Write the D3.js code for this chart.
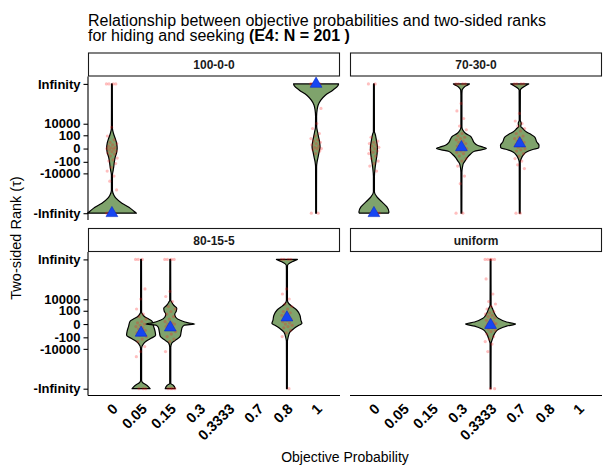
<!DOCTYPE html>
<html><head><meta charset="utf-8">
<script src="https://cdn.jsdelivr.net/npm/d3@7"></script>
<style>
body{margin:0;background:#fff}
svg{display:block}
text{font-family:"Liberation Sans",Arial,Helvetica,sans-serif}
</style>
</head><body>
<svg id="chart" width="613" height="468"></svg>
<script>
// ---------------- DATA ----------------
const INF = Infinity;
const INF_POS = 25.8; // axis position (asinh units) where ±Infinity is drawn
const panels = ["100-0-0", "70-30-0", "80-15-5", "uniform"];
const categories = ["0", "0.05", "0.15", "0.3", "0.3333", "0.7", "0.8", "1"];
const yTickValues = [-INF, -10000, -100, 0, 100, 10000, INF];
const yTickLabels = ["-Infinity", "-10000", "-100", "0", "100", "10000", "Infinity"];

// one entry per violin
const violinPanel = ["100-0-0", "100-0-0", "70-30-0", "70-30-0", "70-30-0", "80-15-5", "80-15-5", "80-15-5", "uniform"];
const violinCategory = ["0", "1", "0", "0.3", "0.7", "0.05", "0.15", "0.8", "0.3333"];

// violin profiles: [asinh(tau), relative density]
const profile_100_0 = [[INF,.016],[8.1,.02],[6.1,.06],[4.1,.13],[2.1,.19],[0.1,.21],[-1.5,.19],[-3.5,.13],[-5.1,.1],[-6.7,.08],[-8.7,.05],[-10.6,.02],[-16.6,.02],[-18.6,.08],[-19.8,.16],[-21.8,.4],[-23.4,.68],[-25,.88],[-INF,.98]];
const profile_100_1 = [[INF,.9],[25.2,.88],[23.3,.67],[21.3,.37],[19.3,.19],[17.3,.08],[15.3,.04],[12.9,.02],[8.6,.024],[6.6,.06],[4.6,.1],[2.6,.14],[0.6,.16],[-1.4,.12],[-3.4,.08],[-5.3,.04],[-7.3,.02],[-INF,.016]];
const profile_70_0 = [[INF,.016],[6.6,.02],[6.1,.04],[3.3,.1],[0.5,.14],[-1.9,.13],[-4.7,.09],[-7.5,.05],[-11.1,.02],[-17.3,.02],[-19.3,.12],[-21.3,.32],[-23.3,.52],[-25.3,.6],[-INF,.58]];
const profile_70_03 = [[INF,.32],[25.3,.24],[24.6,.12],[23.9,.06],[23.3,.028],[21.3,.02],[8.6,.02],[7.3,.06],[6.1,.16],[4.9,.36],[3.7,.44],[2.5,.5],[1.3,.64],[0.5,.88],[0,1.0],[-0.5,.8],[-1.1,.52],[-2.3,.36],[-3.5,.24],[-4.7,.16],[-5.9,.08],[-7.5,.04],[-9.5,.02],[-INF,.016]];
const profile_70_07 = [[INF,.36],[24.9,.2],[23.9,.06],[23.3,.024],[11.3,.02],[10,.06],[8.9,.04],[8.0,.12],[6.6,.27],[5.7,.44],[4.6,.6],[2.6,.68],[1.3,.77],[0.3,.76],[-0.4,.52],[-1.4,.27],[-2.7,.13],[-4,.06],[-5.5,.02],[-INF,.016]];
const profile_80_005 = [[INF,.016],[4.7,.02],[3.9,.06],[2.8,.16],[1.9,.32],[1.1,.44],[-0.9,.5],[-2.9,.56],[-4.5,.58],[-5.7,.4],[-6.9,.2],[-8.1,.08],[-9.7,.02],[-22.5,.02],[-23.5,.08],[-24.5,.24],[-INF,.36]];
const profile_80_015 = [[INF,.016],[9.5,.02],[8.7,.06],[7.5,.14],[6.3,.26],[5.1,.24],[3.9,.18],[2.7,.22],[1.5,.4],[0.5,.72],[0,.98],[-0.5,.56],[-1.3,.48],[-2.9,.44],[-4.9,.4],[-6.5,.2],[-7.7,.06],[-9.3,.02],[-23.7,.02],[-24.4,.12],[-INF,.2]];
const profile_80_08 = [[INF,.42],[25.0,.24],[24.1,.08],[23.4,.024],[21.4,.02],[9.5,.02],[8.1,.08],[6.8,.24],[5.5,.4],[3.5,.52],[1.5,.56],[0.2,.6],[-0.5,.48],[-1.8,.28],[-3.2,.12],[-5.2,.05],[-6.9,.02],[-INF,.016]];
const profile_unif = [[INF,.016],[7.5,.02],[6.1,.08],[4.2,.16],[2.2,.32],[0.8,.64],[0,1.0],[-0.8,.64],[-2.1,.32],[-3.8,.16],[-5.8,.08],[-7.8,.02],[-INF,.016]];
const violinProfiles = [profile_100_0, profile_100_1, profile_70_0, profile_70_03, profile_70_07, profile_80_005, profile_80_015, profile_80_08, profile_unif];

// mean markers (asinh(tau))
const meanAsinh = [-INF, INF, -INF, 0.5, 2.0, -3.5, -1.4, 2.6, -0.4];

// individual responses (asinh(tau))
const pts_100_0 = [INF,INF,INF,INF,8.5,5,3.5,2.5,2,1.5,1,0.5,0.3,0,-0.2,-0.5,-1,-1.3,-1.8,-2.2,-3,-3.8,-4.5,-5,-6,-7.5,-9,-11,-13,-16.5,-INF,-INF,-INF,-INF,-INF,-INF];
const pts_100_1 = [INF,INF,INF,INF,INF,INF,INF,INF,16,10,8,6,5,4,3.5,3,2.5,2,1.5,1,0.5,0,0,-0.5,-1,-2,-INF,-INF];
const pts_70_0 = [INF,INF,4.5,3,2.5,2,1.5,1,0.5,0,-0.5,-1,-1.5,-2,-3,-4,-5,-6,-7,-9,-INF,-INF,-INF,-INF,-INF,-INF];
const pts_70_03 = [INF,INF,INF,INF,18,15,12,9,7.5,6,5,4.5,4,3.5,3,2.5,2,1.5,1,0.5,0.2,0,0,-0.3,-0.6,-1,-1.5,-2,-3,-4,-5,-7,-11,-14,-INF,-INF];
const pts_70_07 = [INF,INF,INF,INF,14,11,10,9,8,7,6,5,4.5,4,3.5,3,2.5,2,1.5,1,0.5,0,-0.5,-1,-2,-3,-4,-5,-6.5,-8,-INF,-INF];
const pts_80_005 = [INF,INF,INF,14,10,6,4,3,2,1,0.5,0,-0.5,-1,-1.5,-2,-2.5,-3,-3.5,-4,-4.5,-5,-6,-7,-9,-11,-13,-INF,-INF,-INF];
const pts_80_015 = [INF,INF,INF,INF,13,11,9,7,6,5,4,3,2,1,0.5,0,0,-0.5,-1,-1.5,-2,-3,-4,-5,-6,-7,-11,-INF,-INF,-INF,-INF];
const pts_80_08 = [INF,INF,INF,INF,14,12,10,8,7,6,5,4.5,4,3.5,3,2.5,2,1.5,1,0.5,0,-0.5,-1,-1.5,-2.5,-3.5,-5,-INF];
const pts_unif = [INF,INF,INF,INF,INF,18,12,9,8,7,6,5,4.5,4,3.5,3,2.5,2,1.5,1,0.5,0.2,0,0,-0.2,-0.5,-1,-1.5,-2,-2.5,-3,-4,-5,-6,-7,-8,-11,-INF,-INF];
const violinPoints = [pts_100_0, pts_100_1, pts_70_0, pts_70_03, pts_70_07, pts_80_005, pts_80_015, pts_80_08, pts_unif];

// ---------------- LAYOUT ----------------
const svg = d3.select("#chart");
const colX = [[88, 340], [350, 602]];
const rowY = [[76.5, 220], [252, 395.5]];
const stripH = 23.5;
const font = '"Liberation Sans",Arial,Helvetica,sans-serif';

// position on the axis for values already in asinh units (±Infinity pinned)
const tf = v => (v === Infinity ? INF_POS : v === -Infinity ? -INF_POS : v);
// raw tau -> asinh units
const tauToAsinh = v => (isFinite(v) ? Math.asinh(v) : v);

const xScales = colX.map(c => d3.scalePoint().domain(categories).range(c).padding(0.82));
const yScales = rowY.map(r => d3.scaleLinear().domain([-INF_POS, INF_POS]).range([r[1] - 6.8, r[0] + 7.4]));
const wScale = d3.scaleLinear().domain([0, 1]).range([0, 25]);

// title
const title = svg.append("text").attr("font-size", 16).attr("fill", "#000");
title.append("tspan").attr("x", 88).attr("y", 26).text("Relationship between objective probabilities and two-sided ranks");
const t2 = title.append("tspan").attr("x", 88).attr("y", 40.5);
t2.append("tspan").text("for hiding and seeking ");
t2.append("tspan").attr("font-weight", "bold").text("(E4: N = 201 )");

panels.forEach((p, pi) => {
  const col = pi % 2, row = Math.floor(pi / 2);
  const [x0, x1] = colX[col];
  const [y0, y1] = rowY[row];
  const xs = xScales[col], ys = yScales[row];
  const g = svg.append("g");

  // strip
  g.append("rect").attr("x", x0 + 0.5).attr("y", y0 - stripH).attr("width", x1 - x0 - 1).attr("height", stripH - 0.5)
    .attr("fill", "#fff").attr("stroke", "#1a1a1a").attr("stroke-width", 1.1);
  g.append("text").attr("x", (x0 + x1) / 2).attr("y", y0 - stripH / 2 + 4.3).attr("text-anchor", "middle")
    .attr("font-size", 12).attr("font-weight", "bold").attr("fill", "#1a1a1a").text(p);

  // violins
  violinPanel.forEach((vp, vi) => {
    if (vp !== p) return;
    const cx = xs(violinCategory[vi]);
    const area = d3.area()
      .y(d => ys(tf(d[0])))
      .x0(d => cx - wScale(d[1]))
      .x1(d => cx + wScale(d[1]))
      .curve(d3.curveMonotoneY);
    g.append("path").attr("d", area(violinProfiles[vi]))
      .attr("fill", "#7fa36c").attr("stroke", "#000").attr("stroke-width", 1.2).attr("stroke-linejoin", "round");
  });
  // points
  violinPanel.forEach((vp, vi) => {
    if (vp !== p) return;
    const cx = xs(violinCategory[vi]);
    g.append("g").selectAll("circle").data(violinPoints[vi]).join("circle")
      .attr("cx", (d, i) => cx + (((i * 0.6180339) % 1) - 0.5) * 11)
      .attr("cy", d => ys(tf(d)))
      .attr("r", 1.6).attr("fill", "#ff1a1a").attr("fill-opacity", 0.28);
  });
  // means
  violinPanel.forEach((vp, vi) => {
    if (vp !== p) return;
    const cx = xs(violinCategory[vi]);
    g.append("path").attr("d", d3.symbol().type(d3.symbolTriangle).size(60)())
      .attr("transform", `translate(${cx},${ys(tf(meanAsinh[vi]))})`)
      .attr("fill", "#1746f2").attr("stroke", "#0a2bc8").attr("stroke-width", 0.6);
  });

  // y axis (left column)
  if (col === 0) {
    const ax = g.append("g").attr("transform", `translate(${x0},0)`)
      .call(d3.axisLeft(ys).tickValues(yTickValues.map(v => tf(tauToAsinh(v))))
        .tickFormat((d, i) => yTickLabels[i]).tickSize(4.5).tickPadding(3).tickSizeOuter(0));
    ax.select(".domain").attr("d", `M0,${y0}V${y1}`).attr("stroke", "#000").attr("stroke-width", 1.1);
    ax.selectAll(".tick line").attr("stroke", "#000").attr("stroke-width", 1.1);
    ax.selectAll(".tick text").attr("font-size", 13).attr("font-weight", "bold").attr("fill", "#000").attr("font-family", font);
  }
  // x axis (bottom row)
  if (row === 1) {
    const ax = g.append("g").attr("transform", `translate(0,${y1})`)
      .call(d3.axisBottom(xs).tickSize(0).tickSizeOuter(0));
    ax.select(".domain").attr("d", `M${x0},0H${x1}`).attr("stroke", "#000").attr("stroke-width", 1.1);
    ax.selectAll(".tick text")
      .attr("font-size", 14.5).attr("font-weight", "bold").attr("fill", "#000").attr("font-family", font)
      .attr("text-anchor", "end").attr("y", 0).attr("dy", "0.71em")
      .attr("transform", "translate(-1,7) rotate(-45)");
  }
});

// axis titles
svg.append("text").attr("x", 345).attr("y", 462).attr("text-anchor", "middle").attr("font-size", 14).attr("fill", "#000")
  .text("Objective Probability");
svg.append("text").attr("transform", "translate(21,238) rotate(-90)").attr("text-anchor", "middle").attr("font-size", 14.5).attr("fill", "#000")
  .text("Two-sided Rank (τ)");
</script>
</body></html>
